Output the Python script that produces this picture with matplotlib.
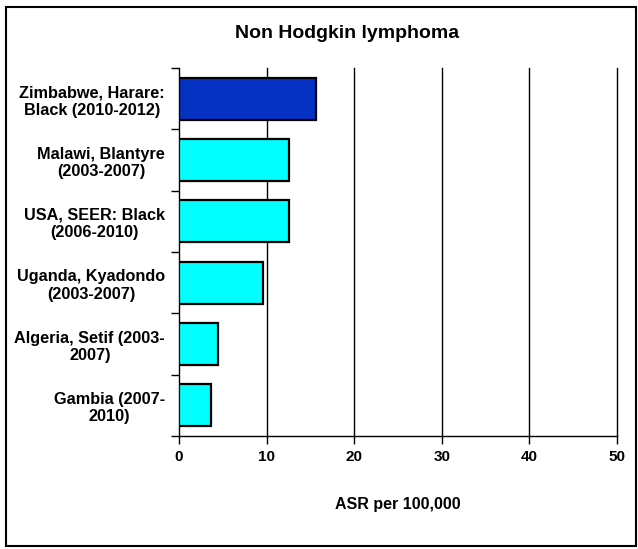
import matplotlib
matplotlib.use("Agg")
import matplotlib.pyplot as plt
from matplotlib.patches import Rectangle

registries = ["Zimbabwe, Harare:\nBlack (2010-2012)",
              "Malawi, Blantyre\n(2003-2007)",
              "USA, SEER: Black\n(2006-2010)",
              "Uganda, Kyadondo\n(2003-2007)",
              "Algeria, Setif (2003-\n2007)",
              "Gambia (2007-\n2010)"]
asr = [15.6, 12.6, 12.6, 9.6, 4.4, 3.7]
bar_colors = ["#0632C4", "#00FFFF", "#00FFFF", "#00FFFF", "#00FFFF", "#00FFFF"]
xticks = [0, 10, 20, 30, 40, 50]

plt.rcParams['font.family'] = ['Liberation Sans', 'DejaVu Sans']
plt.rcParams['font.weight'] = 'bold'

fig = plt.figure(figsize=(6.38, 5.49), dpi=100)
W, H = 638, 549
ax = fig.add_axes([179 / W, 1 - 436 / H, (617 - 179) / W, (436 - 68) / H])

pos = list(range(len(registries)))
ax.barh(pos, asr, height=0.68, color=bar_colors, edgecolor="black",
        linewidth=1.6, zorder=3)

ax.set_xlim(0, 50)
ax.set_ylim(len(registries) - 0.5, -0.5)
ax.set_xticks(xticks)
ax.set_xticklabels([str(t) for t in xticks], fontsize=11, fontweight='bold')
ax.tick_params(axis='x', direction='out', length=6, width=1, pad=4)

ax.set_yticks(pos)
ax.set_yticklabels(registries, fontsize=11.7, fontweight='bold',
                   linespacing=1.2, multialignment='center')
ax.tick_params(axis='y', which='major', length=0, pad=10)
ax.set_yticks([p - 0.5 for p in pos] + [len(pos) - 0.5], minor=True)
ax.tick_params(axis='y', which='minor', direction='out', length=6, width=1)

for t in xticks[1:]:
    ax.axvline(t, color="black", linewidth=1, zorder=1, clip_on=False)

ax.spines['top'].set_visible(False)
ax.spines['right'].set_visible(False)
ax.spines['left'].set_linewidth(1)
ax.spines['bottom'].set_linewidth(1)

ax.set_xlabel("ASR per 100,000", fontsize=11.5, fontweight='bold', labelpad=24)

fig.text(347 / W, 1 - 34 / H, "Non Hodgkin lymphoma", ha='center', va='center',
         fontsize=14, fontweight='bold')

fig.patches.append(Rectangle((6 / W, 1 - 546 / H), 630 / W, 539 / H,
                             transform=fig.transFigure, fill=False,
                             edgecolor="black", linewidth=1.5))

fig.savefig("out.png", dpi=100)
